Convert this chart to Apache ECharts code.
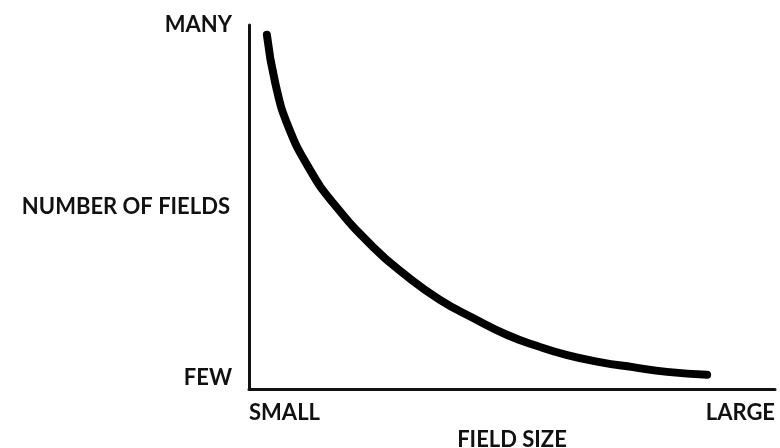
<!DOCTYPE html>
<html>
<head>
<meta charset="utf-8">
<script src="https://cdn.jsdelivr.net/npm/echarts@6/dist/echarts.min.js"></script>
<style>html,body{margin:0;padding:0;background:#fff}#c{width:780px;height:448px}</style>
</head>
<body>
<div id="c"></div>
<script>
// Field size (0 = small, 100 = large) vs number of fields (0 = few, 100 = many)
var fieldSize = [3.4, 5.0, 7.5, 11.6, 16.0, 23.6, 30.0, 36.3, 42.6, 49.0, 54.8, 60.5, 66.7, 73.0, 79.5, 87.1];
var numberOfFields = [97.3, 84.0, 72.0, 60.2, 51.1, 39.0, 31.0, 24.5, 19.5, 14.9, 11.8, 9.3, 7.4, 6.0, 4.7, 3.9];
var xTickLabels = ['SMALL', 'LARGE'];
var yTickLabels = ['FEW', 'MANY'];
var xTitle = 'FIELD SIZE';
var yTitle = 'NUMBER OF FIELDS';

var data = fieldSize.map(function (x, i) { return [x, numberOfFields[i]]; });
var font = 'Lato, "Open Sans", sans-serif';
var fs = 22;
var chart = echarts.init(document.getElementById('c'));
chart.setOption({
  animation: false,
  backgroundColor: '#fff',
  grid: { left: 249, right: 5, top: 25, bottom: 59, outerBoundsMode: 'none', containLabel: false },
  xAxis: {
    type: 'value', min: 0, max: 100, interval: 100,
    name: xTitle, nameLocation: 'middle', nameGap: 37,
    nameTextStyle: { color: '#111', fontFamily: font, fontSize: fs, fontWeight: 'bold' },
    axisLine: { show: true, lineStyle: { color: '#111', width: 3 } },
    axisTick: { show: false }, splitLine: { show: false },
    axisLabel: {
      color: '#111', fontFamily: font, fontSize: fs, fontWeight: 'bold', margin: 13,
      alignMinLabel: 'left', alignMaxLabel: 'right',
      formatter: function (v) { return v === 0 ? xTickLabels[0] : xTickLabels[1]; }
    }
  },
  yAxis: {
    type: 'value', min: 0, max: 100, interval: 100,
    name: yTitle, nameLocation: 'middle', nameGap: 19, nameRotate: 0, nameMoveOverlap: false,
    nameTextStyle: { color: '#111', fontFamily: font, fontSize: fs, fontWeight: 'bold', align: 'right', verticalAlign: 'middle' },
    axisLine: { show: true, lineStyle: { color: '#111', width: 3 } },
    axisTick: { show: false }, splitLine: { show: false },
    axisLabel: {
      color: '#111', fontFamily: font, fontSize: fs, fontWeight: 'bold', margin: 17,
      verticalAlignMinLabel: 'bottom', verticalAlignMaxLabel: 'middle',
      formatter: function (v) { return v === 0 ? yTickLabels[0] : yTickLabels[1]; }
    }
  },
  series: [{
    type: 'line', data: data, smooth: 0.5, showSymbol: false, symbol: 'none',
    lineStyle: { color: '#000', width: 8, cap: 'round' }
  }]
});
</script>
</body>
</html>
